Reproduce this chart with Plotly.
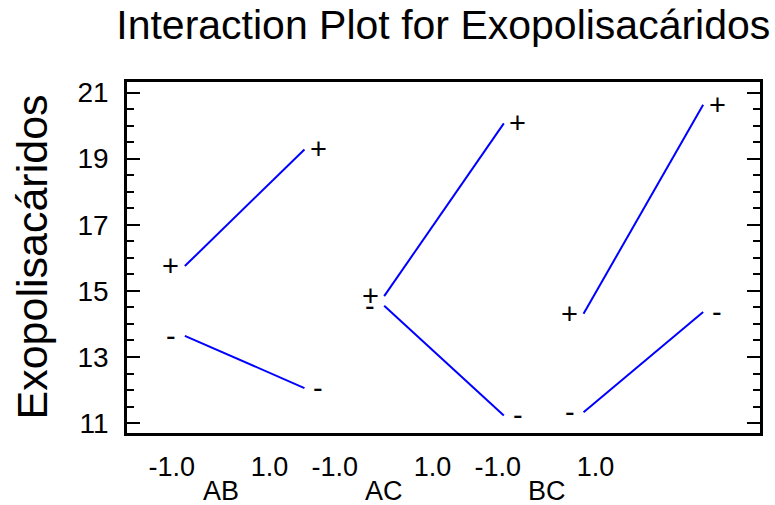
import plotly.graph_objects as go

# Factor levels and mean response at each level of the second factor
levels = [-1.0, 1.0]
interactions = ["AB", "AC", "BC"]
plus_means = {
    "AB": [15.75, 19.28],
    "AC": [14.84, 20.07],
    "BC": [14.31, 20.63],
}
minus_means = {
    "AB": [13.64, 12.06],
    "AC": [14.55, 11.23],
    "BC": [11.33, 14.36],
}
tick_text = ["-1.0", "1.0"]
y_ticks = [11, 13, 15, 17, 19, 21]

FONT = "Liberation Sans, Arial, sans-serif"
LINE_BLUE = "#0000FF"
PANEL_STEP = 10 / 3          # horizontal spacing between interaction panels
LABEL_STEP = 2.725           # spacing of the level labels under each panel
LABEL_SPAN = 1.633           # distance between "-1.0" and "1.0" labels
LABEL_START = -1.217

fig = go.Figure()
annotations = []
tickvals, ticktext = [], []

for i, name in enumerate(interactions):
    xs = [i * PANEL_STEP + lv for lv in levels]
    for series, sign in ((plus_means[name], "+"), (minus_means[name], "-")):
        fig.add_trace(go.Scatter(
            x=xs, y=series, mode="lines",
            line=dict(color=LINE_BLUE, width=2),
            showlegend=False, hoverinfo="skip",
        ))
        for x, y, shift in ((xs[0], series[0], -14), (xs[1], series[1], 14)):
            annotations.append(dict(
                x=x, y=y, xref="x", yref="y", text=sign, showarrow=False,
                xanchor="center", yanchor="middle", xshift=shift,
                font=dict(family=FONT, size=29, color="black"),
            ))
    # level labels and group name underneath the panel
    left = LABEL_START + i * LABEL_STEP
    tickvals += [left, left + LABEL_SPAN]
    ticktext += tick_text
    annotations.append(dict(
        x=left + LABEL_SPAN / 2, y=0, xref="x", yref="paper", text=name,
        showarrow=False, xanchor="center", yanchor="middle", yshift=-58,
        font=dict(family=FONT, size=27, color="black"),
    ))

# vertical axis title
annotations.append(dict(
    x=0, y=0.5, xref="paper", yref="paper", text="Exopolisacáridos",
    textangle=-90, showarrow=False, xanchor="center", yanchor="middle",
    xshift=-96, font=dict(family=FONT, size=43, color="black"),
))

fig.update_layout(
    width=775, height=505,
    margin=dict(l=127, r=13, t=82, b=72),
    paper_bgcolor="white", plot_bgcolor="white",
    font=dict(family=FONT, color="black"),
    title=dict(
        text="Interaction Plot for Exopolisacáridos",
        x=0.572, xref="container", xanchor="center",
        y=1 - 25 / 505, yref="container", yanchor="middle",
        font=dict(family=FONT, size=41, color="black"),
    ),
    annotations=annotations,
    xaxis=dict(
        range=[-1.967, 8.617], showgrid=False, zeroline=False,
        showline=True, linecolor="black", linewidth=2.5, mirror=True,
        ticks="", tickvals=tickvals, ticktext=ticktext,
        ticklabelstandoff=8,
        tickfont=dict(family=FONT, size=27, color="black"),
    ),
    yaxis=dict(
        range=[10.7, 21.32], showgrid=False, zeroline=False,
        showline=True, linecolor="black", linewidth=2.5, mirror="ticks",
        tickvals=y_ticks, ticks="inside", ticklen=13, tickwidth=2,
        tickcolor="black", ticklabelstandoff=10,
        tickfont=dict(family=FONT, size=28, color="black"),
        minor=dict(dtick=0.5, ticks="inside", ticklen=7, tickwidth=2,
                   tickcolor="black", showgrid=False),
    ),
)

fig.write_html("out.html")
